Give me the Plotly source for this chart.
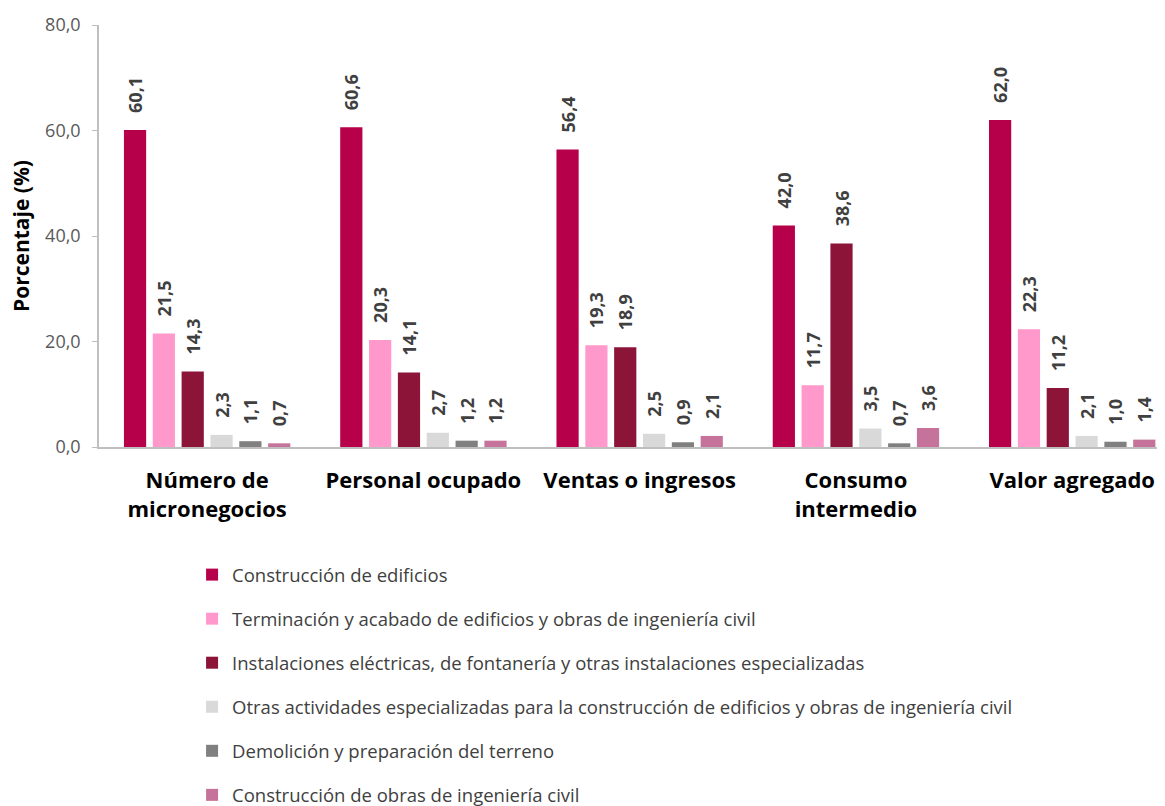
import plotly.graph_objects as go

categorias = ["Número de<br>micronegocios", "Personal ocupado", "Ventas o ingresos",
              "Consumo<br>intermedio", "Valor agregado"]

series = [
    "Construcción de edificios",
    "Terminación y acabado de edificios y obras de ingeniería civil",
    "Instalaciones eléctricas, de fontanería y otras instalaciones especializadas",
    "Otras actividades especializadas para la construcción de edificios y obras de ingeniería civil",
    "Demolición y preparación del terreno",
    "Construcción de obras de ingeniería civil",
]

edificios = [60.1, 60.6, 56.4, 42.0, 62.0]
terminacion = [21.5, 20.3, 19.3, 11.7, 22.3]
instalaciones = [14.3, 14.1, 18.9, 38.6, 11.2]
otras = [2.3, 2.7, 2.5, 3.5, 2.1]
demolicion = [1.1, 1.2, 0.9, 0.7, 1.0]
obras_civiles = [0.7, 1.2, 2.1, 3.6, 1.4]

valores = [edificios, terminacion, instalaciones, otras, demolicion, obras_civiles]
colores = ['#B7004A', '#FF99CC', '#8C1439', '#D9D9D9', '#808080', '#C5739B']

fig = go.Figure()

# espacios duros para separar la etiqueta de la barra
pad = '\u00a0' * 3

for i, (nombre, vals, color) in enumerate(zip(series, valores, colores)):
    fig.add_trace(go.Bar(
        x=categorias,
        y=vals,
        name=nombre,
        legendgroup=str(i),
        marker=dict(color=color, line=dict(width=0)),
        text=[pad + f'{v:.1f}'.replace('.', ',') for v in vals],
        textposition='outside',
        textangle=-90,
        cliponaxis=False,
        textfont=dict(family='Open Sans', size=18, color='#404040', weight='bold'),
    ))

# ancho del área de trazado, para ubicar el título del eje
plot_w = 1165 - 91 - 5

fig.update_layout(
    width=1165,
    height=806,
    barmode='group',
    bargap=0.2,
    bargroupgap=0.23,
    plot_bgcolor='white',
    paper_bgcolor='white',
    margin=dict(l=91, r=5, t=17, b=367, autoexpand=False),
    font=dict(family='Open Sans', color='#595959'),
    separators=',.',
    uniformtext=dict(minsize=18, mode='show'),
    legend=dict(
        xref='container', yref='container',
        x=0.158, y=0.32, xanchor='left', yanchor='top',
        font=dict(family='Open Sans', size=18.5, color='#404040'),
        tracegroupgap=17,
        itemwidth=30,
    ),
    annotations=[dict(
        text='Porcentaje (%)', textangle=-90,
        xref='paper', yref='paper', x=-78 / plot_w, y=0.5,
        xanchor='center', yanchor='middle', showarrow=False,
        font=dict(family='Open Sans', size=21, color='black', weight='bold'),
    )],
)

fig.update_xaxes(
    range=[-0.5, 4.443],
    showline=True, linecolor='#BFBFBF', linewidth=1.5,
    ticks='', ticklabelstandoff=13, tickangle=0,
    tickfont=dict(family='Open Sans', size=22, color='black', weight='bold'),
)

fig.update_yaxes(
    range=[0, 80],
    dtick=20,
    tickformat='.1f',
    showgrid=False,
    zeroline=False,
    showline=True, linecolor='#BFBFBF', linewidth=1.5,
    ticks='outside', ticklen=5, tickcolor='#BFBFBF',
    ticklabelstandoff=8,
    tickfont=dict(family='Open Sans', size=18, color='#595959'),
)

fig.write_html("out.html")
